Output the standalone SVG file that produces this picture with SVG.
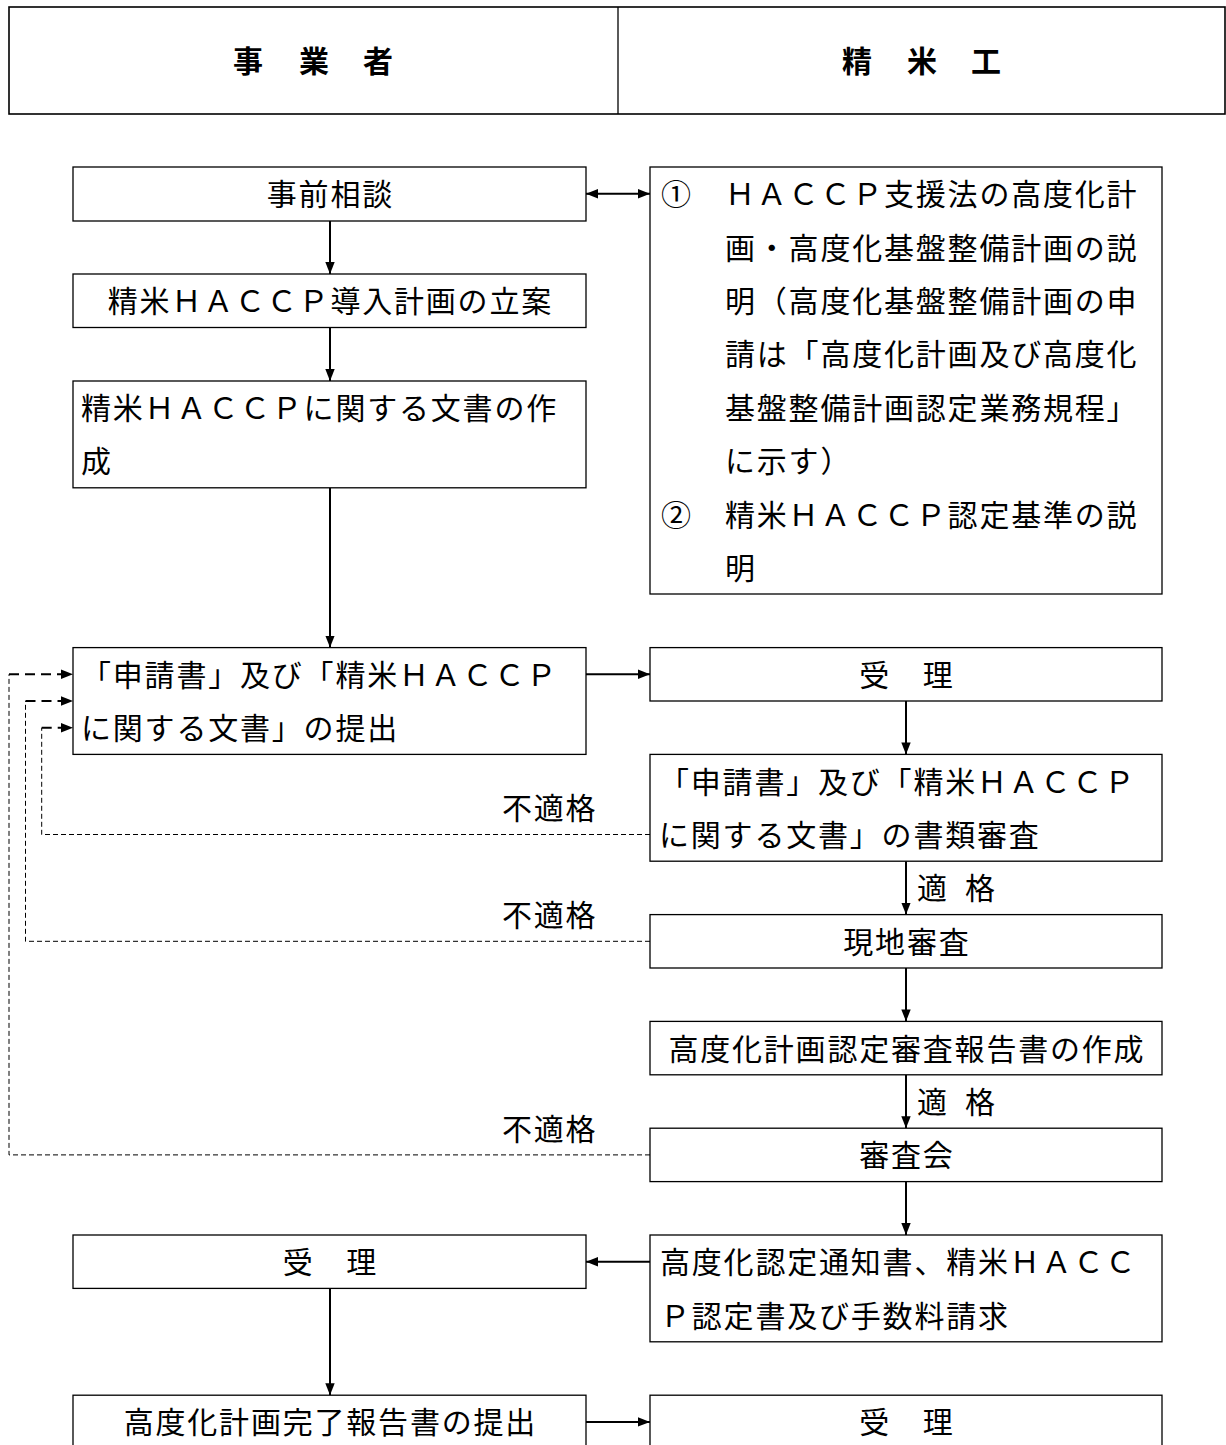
<svg xmlns="http://www.w3.org/2000/svg" width="1226" height="1445" viewBox="0 0 1226 1445">
<defs>
<style>
.box{fill:#fff;stroke:#000;stroke-width:1.3}
.t{font-family:"Noto Sans CJK JP","Noto Sans CJK SC",sans-serif;font-size:30px;letter-spacing:1.8px;fill:#000}
.hd{font-family:"Noto Sans CJK JP","Noto Sans CJK SC",sans-serif;font-size:30px;font-weight:bold;fill:#000;text-anchor:middle}
.conn{stroke:#000;stroke-width:2;fill:none}
.dthin{stroke:#000;stroke-width:1;stroke-dasharray:5 3;fill:none}
.dthick{stroke:#000;stroke-width:2;stroke-dasharray:10 6;fill:none}
</style>
<marker id="ah" viewBox="0 0 12 10" refX="12" refY="5" markerWidth="12" markerHeight="10" markerUnits="userSpaceOnUse" orient="auto-start-reverse">
<path d="M0,0.3 L12,5 L0,9.7 z" fill="#000"/>
</marker>
</defs>
<rect width="1226" height="1445" fill="#fff"/>

<g id="header">
<rect x="9" y="7" width="1216" height="107" fill="#fff" stroke="#000" stroke-width="1.6"/>
<line x1="618" y1="7" x2="618" y2="114" stroke="#000" stroke-width="1.3"/>
<text class="hd" x="248" y="72">事</text>
<text class="hd" x="314" y="72">業</text>
<text class="hd" x="378" y="72">者</text>
<text class="hd" x="857" y="72">精</text>
<text class="hd" x="922" y="72">米</text>
<text class="hd" x="986" y="72">工</text>
</g>

<g id="connectors">
<line class="conn" x1="586" y1="193.7" x2="650" y2="193.7" marker-start="url(#ah)" marker-end="url(#ah)"/>
<line class="conn" x1="330" y1="221" x2="330" y2="274" marker-end="url(#ah)"/>
<line class="conn" x1="330" y1="327.5" x2="330" y2="381" marker-end="url(#ah)"/>
<line class="conn" x1="330" y1="487.8" x2="330" y2="647.6" marker-end="url(#ah)"/>
<line class="conn" x1="586" y1="674.3" x2="650" y2="674.3" marker-end="url(#ah)"/>
<line class="conn" x1="906" y1="701" x2="906" y2="754.4" marker-end="url(#ah)"/>
<line class="conn" x1="906" y1="861.2" x2="906" y2="914.6" marker-end="url(#ah)"/>
<line class="conn" x1="906" y1="968" x2="906" y2="1021.4" marker-end="url(#ah)"/>
<line class="conn" x1="906" y1="1074.8" x2="906" y2="1128.2" marker-end="url(#ah)"/>
<line class="conn" x1="906" y1="1181.6" x2="906" y2="1235" marker-end="url(#ah)"/>
<line class="conn" x1="650" y1="1261.7" x2="586" y2="1261.7" marker-end="url(#ah)"/>
<line class="conn" x1="330" y1="1288.4" x2="330" y2="1395.2" marker-end="url(#ah)"/>
<line class="conn" x1="586" y1="1421.9" x2="650" y2="1421.9" marker-end="url(#ah)"/>

<polyline class="dthin" points="650,834.5 41.7,834.5 41.7,727.7"/>
<line class="dthick" x1="41.7" y1="727.7" x2="73" y2="727.7" marker-end="url(#ah)"/>
<polyline class="dthin" points="650,941.3 25.5,941.3 25.5,701"/>
<line class="dthick" x1="25.5" y1="701" x2="73" y2="701" marker-end="url(#ah)"/>
<polyline class="dthin" points="650,1154.9 9,1154.9 9,674.3"/>
<line class="dthick" x1="9" y1="674.3" x2="73" y2="674.3" marker-end="url(#ah)"/>

<text class="t" x="502" y="819.2">不適格</text>
<text class="t" x="502" y="926">不適格</text>
<text class="t" x="502" y="1139.6">不適格</text>
<text class="t" y="899.3"><tspan x="917">適</tspan><tspan x="965">格</tspan></text>
<text class="t" y="1112.9"><tspan x="917">適</tspan><tspan x="965">格</tspan></text>
</g>

<g id="n_soudan">
<rect class="box" x="73" y="167" width="513" height="54"/>
<text class="t" x="266.8" y="205.1">事前相談</text>
</g>

<g id="n_plan">
<rect class="box" x="73" y="274" width="513" height="53.5"/>
<text class="t" x="107.8" y="311.9">精米ＨＡＣＣＰ導入計画の立案</text>
</g>

<g id="n_docs">
<rect class="box" x="73" y="381" width="513" height="106.8"/>
<text class="t" x="81" y="418.7">精米ＨＡＣＣＰに関する文書の作</text>
<text class="t" x="81" y="472.1">成</text>
</g>

<g id="n_explain">
<rect class="box" x="650" y="167" width="512" height="427"/>
<text class="t" x="661" y="205.1">①</text>
<text class="t" x="725" y="205.1">ＨＡＣＣＰ支援法の高度化計</text>
<text class="t" x="725" y="258.5">画・高度化基盤整備計画の説</text>
<text class="t" x="725" y="311.9">明（高度化基盤整備計画の申</text>
<text class="t" x="725" y="365.3">請は「高度化計画及び高度化</text>
<text class="t" x="725" y="418.7">基盤整備計画認定業務規程」</text>
<text class="t" x="725" y="472.1">に示す）</text>
<text class="t" x="661" y="525.5">②</text>
<text class="t" x="725" y="525.5">精米ＨＡＣＣＰ認定基準の説</text>
<text class="t" x="725" y="578.9">明</text>
</g>

<g id="n_submit">
<rect class="box" x="73" y="647.6" width="513" height="106.8"/>
<text class="t" x="81" y="685.7">「申請書」及び「精米ＨＡＣＣＰ</text>
<text class="t" x="81" y="739.1">に関する文書」の提出</text>
</g>

<g id="n_receive1">
<rect class="box" x="650" y="647.6" width="512" height="53.4"/>
<text class="t" x="859.2" y="685.7">受　理</text>
</g>

<g id="n_docreview">
<rect class="box" x="650" y="754.4" width="512" height="106.8"/>
<text class="t" x="659" y="792.5">「申請書」及び「精米ＨＡＣＣＰ</text>
<text class="t" x="659" y="845.9">に関する文書」の書類審査</text>
</g>

<g id="n_onsite">
<rect class="box" x="650" y="914.6" width="512" height="53.4"/>
<text class="t" x="843.3" y="952.7">現地審査</text>
</g>

<g id="n_report">
<rect class="box" x="650" y="1021.4" width="512" height="53.4"/>
<text class="t" x="668.4" y="1059.5">高度化計画認定審査報告書の作成</text>
</g>

<g id="n_council">
<rect class="box" x="650" y="1128.2" width="512" height="53.4"/>
<text class="t" x="859.2" y="1166.3">審査会</text>
</g>

<g id="n_notice">
<rect class="box" x="650" y="1235" width="512" height="106.8"/>
<text class="t" x="660" y="1273.1">高度化認定通知書、精米ＨＡＣＣ</text>
<text class="t" x="660" y="1326.5">Ｐ認定書及び手数料請求</text>
</g>

<g id="n_receive2">
<rect class="box" x="73" y="1235" width="513" height="53.4"/>
<text class="t" x="282.7" y="1273.1">受　理</text>
</g>

<g id="n_complete">
<rect class="box" x="73" y="1395.2" width="513" height="80"/>
<text class="t" x="123.7" y="1433.3">高度化計画完了報告書の提出</text>
</g>

<g id="n_receive3">
<rect class="box" x="650" y="1395.2" width="512" height="80"/>
<text class="t" x="859.2" y="1433.3">受　理</text>
</g>
</svg>
